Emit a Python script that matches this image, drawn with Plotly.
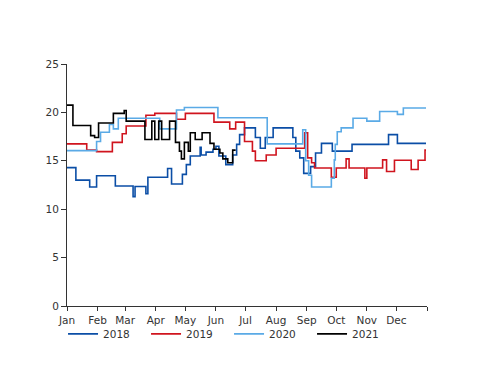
import plotly.graph_objects as go
import pandas as pd

YEAR = "2001"  # common non-leap calendar for the seasonal x axis

months = ["Jan", "Feb", "Mar", "Apr", "May", "Jun",
          "Jul", "Aug", "Sep", "Oct", "Nov", "Dec"]

# 2018 (step points: date -> value)
d2018 = ["01-01", "01-10", "01-24", "01-31", "02-19", "03-09", "03-11", "03-22",
         "03-24", "04-13", "04-17", "04-28", "05-02", "05-06", "05-16", "05-17",
         "05-22", "05-29", "06-01", "06-04", "06-11", "06-18", "06-22", "06-25",
         "06-30", "07-11", "07-16", "07-21", "07-29", "08-18", "08-21", "08-25",
         "08-29", "09-05", "09-10", "09-16", "09-27", "10-17", "11-23", "12-02",
         "12-31"]
v2018 = [14.3, 13.0, 12.3, 13.45, 12.4, 11.3, 12.35, 11.6,
         13.3, 14.2, 12.6, 13.6, 14.6, 15.5, 16.4, 15.6,
         15.9, 16.2, 16.5, 15.5, 14.6, 15.6, 16.7, 17.7,
         18.4, 17.4, 16.3, 17.4, 18.4, 17.4, 16.0, 15.3,
         13.7, 14.4, 15.8, 16.8, 16.0, 16.7, 17.7, 16.8,
         16.8]

# 2019
d2019 = ["01-01", "01-21", "01-31", "02-16", "02-26", "03-02", "03-22", "03-31",
         "04-22", "05-01", "05-30", "06-15", "06-21", "06-30", "07-08", "07-11",
         "07-22", "08-01", "08-30", "09-02", "09-06", "09-09", "09-26", "10-01",
         "10-11", "10-14", "10-30", "11-01", "11-17", "11-21", "11-29", "12-16",
         "12-23", "12-30", "12-31"]
v2019 = [16.75, 16.1, 15.95, 16.9, 17.8, 18.6, 19.7, 19.9,
         19.3, 19.9, 19.0, 18.3, 19.0, 17.0, 16.0, 15.0,
         15.6, 16.3, 17.9, 15.3, 14.8, 14.25, 13.3, 14.25,
         15.2, 14.25, 13.2, 14.25, 15.1, 13.9, 15.05, 14.1,
         15.05, 16.1, 16.1]

# 2020
d2020 = ["01-01", "01-31", "02-04", "02-13", "02-17", "02-22", "04-05", "04-22",
         "04-30", "06-03", "07-23", "08-28", "08-31", "09-03", "09-06", "09-26",
         "09-29", "09-30", "10-02", "10-06", "10-18", "11-01", "11-14", "12-02",
         "12-08", "12-31"]
v2020 = [16.05, 17.0, 17.95, 18.75, 18.3, 19.4, 18.3, 20.25,
         20.5, 19.45, 16.75, 18.2, 15.0, 13.5, 12.3, 13.2,
         15.1, 16.7, 18.0, 18.4, 19.4, 19.1, 20.1, 19.8,
         20.45, 20.45]

# 2021 (data end in late June)
d2021 = ["01-01", "01-07", "01-25", "01-29", "02-02", "02-17", "02-28", "03-02",
         "03-21", "03-28", "03-31", "04-04", "04-07", "04-15", "04-21", "04-25",
         "04-27", "04-30", "05-04", "05-06", "05-11", "05-18", "05-26", "05-30",
         "06-05", "06-08", "06-13", "06-18", "06-21"]
v2021 = [20.75, 18.65, 17.6, 17.4, 18.9, 19.9, 20.2, 19.1,
         17.2, 19.1, 17.2, 19.1, 17.2, 19.1, 16.9, 16.0,
         15.2, 16.9, 16.0, 17.9, 17.2, 17.9, 16.8, 16.2,
         15.8, 15.2, 14.8, 16.1, 16.1]

series = [
    ("2018", d2018, v2018, "#0b4ea6"),
    ("2019", d2019, v2019, "#d0141e"),
    ("2020", d2020, v2020, "#5aaae6"),
    ("2021", d2021, v2021, "#000000"),
]

fig = go.Figure()
for name, dates, vals, color in series:
    x = pd.to_datetime([f"{YEAR}-{d}" for d in dates])
    fig.add_trace(go.Scatter(
        x=x, y=vals, mode="lines", name=name,
        line=dict(color=color, width=1.6, shape="hv"),
    ))

tickvals = [pd.Timestamp(f"{YEAR}-{m:02d}-01") for m in range(1, 13)] + [pd.Timestamp("2002-01-01")]
ticktext = months + [""]

font = dict(family="DejaVu Sans", size=10.5, color="#333333")

fig.update_layout(
    width=500, height=386,
    margin=dict(l=67, r=73, t=64, b=80),
    paper_bgcolor="white", plot_bgcolor="white",
    font=font,
    showlegend=True,
    legend=dict(
        orientation="h", x=-0.011, y=-0.115, xanchor="left", yanchor="middle",
        entrywidth=38, entrywidthmode="pixels", itemwidth=30,
        font=font, bgcolor="rgba(0,0,0,0)",
        tracegroupgap=0,
    ),
)
fig.update_xaxes(
    range=[pd.Timestamp(f"{YEAR}-01-01"), pd.Timestamp("2002-01-01")],
    tickvals=tickvals, ticktext=ticktext,
    showgrid=False, zeroline=False,
    showline=True, linecolor="#333333", linewidth=1,
    ticks="outside", ticklen=4, tickcolor="#333333",
)
fig.update_yaxes(
    range=[0, 25], dtick=5, tick0=0,
    showgrid=False, zeroline=False,
    showline=True, linecolor="#333333", linewidth=1,
    ticks="outside", ticklen=5, tickcolor="#333333",
)

fig.write_html("out.html", config={"displayModeBar": False},
               post_script="document.body.style.margin='0';")
